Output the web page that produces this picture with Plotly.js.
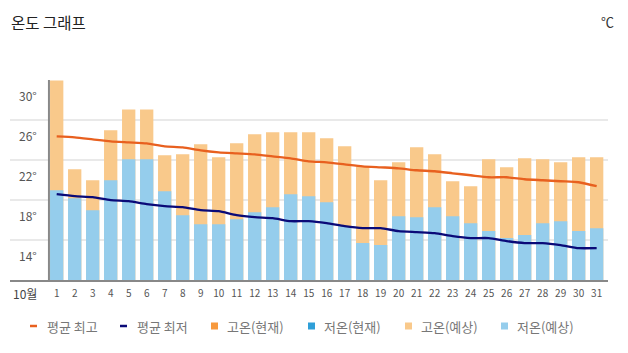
<!DOCTYPE html>
<html>
<head>
<meta charset="utf-8">
<script src="https://cdn.plot.ly/plotly-3.0.1.min.js"></script>
<style>html,body{margin:0;padding:0;background:#fff;}#chart{width:628px;height:353px;}</style>
</head>
<body>
<div id="chart"></div>
<script>
const days = [1,2,3,4,5,6,7,8,9,10,11,12,13,14,15,16,17,18,19,20,21,22,23,24,25,26,27,28,29,30,31];
const dayLabels = days.map(String);
const highForecast = [30.0,21.1,20.0,25.0,27.1,27.1,22.5,22.6,23.6,22.3,23.7,24.6,24.8,24.8,24.8,24.2,23.4,21.4,20.0,21.8,23.3,22.6,19.9,19.4,22.1,21.3,22.2,22.1,21.8,22.3,22.3];
const lowForecast = [19.0,18.2,17.0,20.0,22.1,22.1,18.9,16.5,15.6,15.6,16.1,16.8,17.3,18.6,18.4,17.8,15.4,13.7,13.5,16.4,16.3,17.3,16.4,15.7,14.9,14.2,14.5,15.7,15.9,14.9,15.2];
const avgHigh = [24.4,24.3,24.1,23.9,23.8,23.7,23.4,23.3,23.0,22.8,22.7,22.6,22.4,22.2,21.9,21.8,21.6,21.4,21.3,21.2,21.0,20.9,20.7,20.5,20.3,20.3,20.1,20.0,19.9,19.8,19.4];
const avgLow = [18.6,18.4,18.3,18.0,17.9,17.6,17.4,17.3,17.0,16.9,16.5,16.3,16.2,15.9,15.9,15.7,15.4,15.2,15.2,14.9,14.8,14.7,14.4,14.2,14.2,13.9,13.7,13.7,13.5,13.2,13.2];
const highNow = [];
const lowNow = [];
const yTicks = [14,18,22,26,30];
const yTickLabels = ['14°','18°','22°','26°','30°'];
const seriesNames = ['평균 최고','평균 최저','고온(현재)','저온(현재)','고온(예상)','저온(예상)'];
const seriesColors = ['#e8601f','#0a0a78','#f7993d','#2f9fd8','#f9c98b','#95cdec'];

const W = 628, H = 353;
const px = v => v / W;
const py = v => 1 - v / H;
const FONT = '"Noto Sans CJK KR", "Noto Sans", sans-serif';

const traces = [
  {type:'bar', x: days, y: highForecast, marker:{color: seriesColors[4]}, width:0.74, name: seriesNames[4], hoverinfo:'y'},
  {type:'bar', x: days, y: lowForecast, marker:{color: seriesColors[5]}, width:0.74, name: seriesNames[5], hoverinfo:'y'},
  {type:'bar', x: days, y: highNow, marker:{color: seriesColors[2]}, width:0.74, name: seriesNames[2]},
  {type:'bar', x: days, y: lowNow, marker:{color: seriesColors[3]}, width:0.74, name: seriesNames[3]},
  {type:'scatter', mode:'lines', x: days, y: avgHigh, line:{color: seriesColors[0], width:2.3, shape:'spline', smoothing:0.6}, name: seriesNames[0]},
  {type:'scatter', mode:'lines', x: days, y: avgLow, line:{color: seriesColors[1], width:2.3, shape:'spline', smoothing:0.6}, name: seriesNames[1]}
];

const annotations = [];
annotations.push({xref:'paper', yref:'paper', x:px(9), y:py(22), xanchor:'left', yanchor:'middle', text:'온도 그래프', showarrow:false, font:{family:FONT, size:15.5, color:'#222'}});
annotations.push({xref:'paper', yref:'paper', x:px(616), y:py(22), xanchor:'right', yanchor:'middle', text:'℃', showarrow:false, font:{family:FONT, size:13, color:'#333'}});
yTicks.forEach((v,i)=>{
  annotations.push({xref:'paper', yref:'y', x:px(39), y:v, yshift:-15, xanchor:'right', yanchor:'middle', text:yTickLabels[i], showarrow:false, font:{family:FONT, size:12, color:'#555'}});
});
annotations.push({xref:'paper', yref:'paper', x:px(25), y:py(293), xanchor:'center', yanchor:'middle', text:'10월', showarrow:false, font:{family:FONT, size:12, color:'#444'}});

const shapes = [];
const legendY = 326;
const legendMarkX = [30,120,211,308,405,501];
const legendTextX = [45,135,225,322,419,515];
seriesNames.forEach((n,i)=>{
  if (i < 2) {
    shapes.push({type:'line', xref:'paper', yref:'paper', x0:px(legendMarkX[i]), x1:px(legendMarkX[i]+7), y0:py(legendY), y1:py(legendY), line:{color:seriesColors[i], width:2.5}});
  } else {
    shapes.push({type:'rect', xref:'paper', yref:'paper', x0:px(legendMarkX[i]), x1:px(legendMarkX[i]+7), y0:py(legendY-3.5), y1:py(legendY+3.5), fillcolor:seriesColors[i], line:{width:0}});
  }
  annotations.push({xref:'paper', yref:'paper', x:px(legendTextX[i]), y:py(legendY), xanchor:'left', yanchor:'middle', text:n, showarrow:false, font:{family:FONT, size:13, color:'#777'}});
});
shapes.push({type:'line', xref:'x', yref:'paper', x0:0.57, x1:0.57, y0:py(280), y1:py(80), line:{color:'#888', width:2}, layer:'above'});

const layout = {
  width: W, height: H,
  margin:{l:0, r:0, t:0, b:0},
  paper_bgcolor:'#fff', plot_bgcolor:'#fff',
  showlegend:false,
  barmode:'overlay',
  xaxis:{domain:[px(10), px(608)], range:[-1.594, 31.63], tickvals: days, ticktext: dayLabels, ticks:'', ticklabelstandoff:3, showgrid:false, zeroline:false, showline:true, linecolor:'#888', linewidth:2, tickfont:{family:FONT, size:10, color:'#555'}, fixedrange:true},
  yaxis:{domain:[1-280/H, 1-80/H], range:[10, 30.05], tickvals: yTicks, showticklabels:false, ticks:'', showgrid:true, gridcolor:'#e9e9e9', gridwidth:2, zeroline:false, showline:false, fixedrange:true},
  annotations, shapes,
  font:{family:FONT}
};

Plotly.newPlot('chart', traces, layout, {displayModeBar:false, staticPlot:true});
</script>
</body>
</html>
